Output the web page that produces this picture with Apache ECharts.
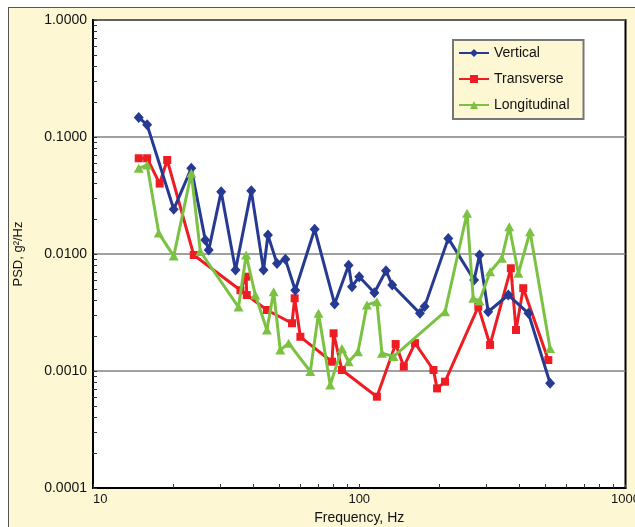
<!DOCTYPE html>
<html>
<head>
<meta charset="utf-8">
<script src="https://cdn.jsdelivr.net/npm/echarts@6/dist/echarts.min.js"></script>
<style>
  html, body { margin: 0; padding: 0; background: #ffffff; }
  #wrap { position: relative; width: 635px; height: 527px; overflow: hidden; }
  #frame { position: absolute; left: 8px; top: 7px; width: 640px; height: 540px;
           background: #fdf7d4; border: 1.5px solid #555; box-sizing: border-box; }
  #chart { position: absolute; left: 0; top: 0; width: 635px; height: 527px; }
</style>
</head>
<body>
<div id="wrap">
  <div id="frame"></div>
  <div id="chart"></div>
</div>
<script>
// ---- data ----
const vertFreq = [14.85, 15.97, 20.1, 23.4, 26.4, 27.2, 30.3, 34.3, 39.3, 43.7, 45.4, 49.1, 52.8, 57.5, 68.0, 80.8, 91.2, 93.9, 100, 114, 126, 133, 169, 176, 216, 270, 283, 305, 363, 432, 521];
const vertPSD  = [0.147, 0.127, 0.0241, 0.054, 0.0132, 0.0108, 0.0341, 0.0073, 0.0348, 0.0073, 0.0145, 0.0083, 0.0090, 0.0049, 0.0163, 0.00374, 0.0080, 0.00526, 0.0064, 0.00467, 0.0072, 0.00543, 0.00311, 0.00355, 0.0136, 0.0060, 0.0098, 0.00321, 0.00446, 0.00311, 0.000785];

const transFreq = [14.85, 15.97, 17.8, 19.0, 23.9, 35.8, 37.6, 37.8, 45.0, 55.9, 57.2, 60.1, 79.0, 80.1, 86.1, 116.5, 137, 147, 162, 190, 196, 210, 280, 310, 371, 388, 413, 513];
const transPSD  = [0.0658, 0.0658, 0.040, 0.0636, 0.0098, 0.0049, 0.0064, 0.00446, 0.00332, 0.00256, 0.00418, 0.00196, 0.0012, 0.0021, 0.00102, 0.000603, 0.0017, 0.00109, 0.00173, 0.00102, 0.00071, 0.00081, 0.00355, 0.00167, 0.00755, 0.00224, 0.0051, 0.00124];

const longFreq = [14.85, 15.97, 17.66, 20.1, 23.4, 25.3, 35.2, 37.6, 40.7, 45.0, 47.7, 50.5, 54.3, 65.5, 70.3, 77.8, 86.1, 91.2, 98.9, 106.9, 116.5, 121.7, 134.5, 210, 254, 268, 283, 310, 343, 366, 396, 438, 521];
const longPSD  = [0.054, 0.0577, 0.0151, 0.0096, 0.049, 0.0105, 0.00352, 0.0098, 0.00446, 0.00224, 0.00476, 0.00151, 0.00173, 0.00099, 0.00311, 0.00076, 0.00156, 0.0012, 0.00146, 0.00367, 0.00391, 0.00142, 0.00133, 0.00321, 0.0223, 0.00418, 0.00397, 0.00706, 0.0092, 0.0171, 0.00684, 0.0155, 0.00156];

const seriesNames = ['Vertical', 'Transverse', 'Longitudinal'];
const xTickValues = [10, 20, 30, 40, 50, 60, 70, 80, 90, 100, 200, 300, 400, 500, 600, 700, 800, 900, 1000];
const yTickValues = [0.0001, 0.0002, 0.0003, 0.0004, 0.0005, 0.0006, 0.0007, 0.0008, 0.0009,
                     0.001, 0.002, 0.003, 0.004, 0.005, 0.006, 0.007, 0.008, 0.009,
                     0.01, 0.02, 0.03, 0.04, 0.05, 0.06, 0.07, 0.08, 0.09,
                     0.1, 0.2, 0.3, 0.4, 0.5, 0.6, 0.7, 0.8, 0.9, 1];

const pairs = (xs, ys) => xs.map((x, i) => [x, ys[i]]);

const chart = echarts.init(document.getElementById('chart'), null, { renderer: 'canvas' });
const font = 'Liberation Sans';
chart.setOption({
  backgroundColor: 'transparent',
  animation: false,
  textStyle: { fontFamily: font },
  grid: {
    left: 93, right: 9.5, top: 20, bottom: 39,
    outerBoundsMode: 'none', containLabel: false,
    show: true, backgroundColor: '#ffffff', borderColor: '#000', borderWidth: 2
  },
  legend: {
    orient: 'vertical',
    left: 453, top: 40,
    padding: [6, 14, 7, 5],
    itemGap: 12,
    itemWidth: 30, itemHeight: 10,
    backgroundColor: '#fdf7d4',
    borderColor: '#777', borderWidth: 2,
    textStyle: { fontFamily: font, fontSize: 14, color: '#111' },
    data: seriesNames
  },
  xAxis: {
    type: 'log', logBase: 10, min: 10, max: 1000,
    name: 'Frequency, Hz', nameLocation: 'middle', nameGap: 20,
    nameTextStyle: { fontFamily: font, fontSize: 14, color: '#111' },
    axisLine: { show: true, lineStyle: { color: '#000', width: 2 } },
    axisTick: { show: true, inside: true, length: 4, customValues: xTickValues, lineStyle: { color: '#333', width: 1 } },
    axisLabel: { fontFamily: font, fontSize: 13, color: '#111', margin: 5, alignMinLabel: 'left',
                 formatter: v => String(Math.round(v)) },
    splitLine: { show: false }
  },
  yAxis: [
    {
      type: 'log', logBase: 10, min: 0.0001, max: 1,
      name: 'PSD, g²/Hz', nameLocation: 'middle', nameGap: 68,
      nameTextStyle: { fontFamily: font, fontSize: 13, color: '#111' },
      axisLine: { show: true, lineStyle: { color: '#000', width: 2 } },
      axisTick: { show: true, inside: true, length: 4, customValues: yTickValues, lineStyle: { color: '#333', width: 1 } },
      axisLabel: { fontFamily: font, fontSize: 14, color: '#111', margin: 6,
                   formatter: v => Number(v).toFixed(4) },
      splitLine: { show: false }
    },
    {
      // helper axis: only draws decade grid lines
      type: 'log', logBase: 10, min: 0.0001, max: 1, position: 'left',
      axisLine: { show: false }, axisTick: { show: false }, axisLabel: { show: false },
      splitLine: { show: true, lineStyle: { color: '#808080', width: 1.6 } }
    }
  ],
  series: [
    {
      name: seriesNames[0], type: 'line', data: pairs(vertFreq, vertPSD),
      symbol: 'diamond', symbolSize: [10, 11],
      lineStyle: { color: '#263a92', width: 3 },
      itemStyle: { color: '#263a92' }, z: 4
    },
    {
      name: seriesNames[1], type: 'line', data: pairs(transFreq, transPSD),
      symbol: 'rect', symbolSize: 8,
      lineStyle: { color: '#ee1d24', width: 3 },
      itemStyle: { color: '#ee1d24' }, z: 3
    },
    {
      name: seriesNames[2], type: 'line', data: pairs(longFreq, longPSD),
      symbol: 'triangle', symbolSize: [10, 9],
      lineStyle: { color: '#7cc242', width: 3 },
      itemStyle: { color: '#7cc242' }, z: 5
    }
  ]
});
</script>
</body>
</html>
